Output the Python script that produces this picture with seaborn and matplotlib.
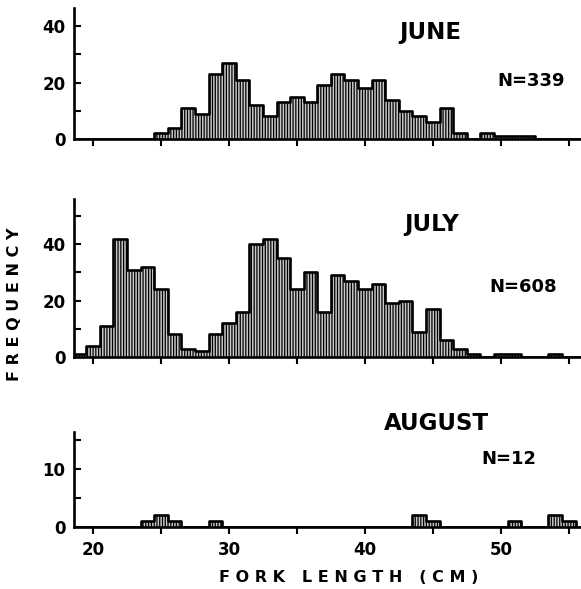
import numpy as np
import pandas as pd
import matplotlib
matplotlib.use("Agg")
import matplotlib.pyplot as plt
import seaborn as sns

# ---------------- data (fork length bins, 1 cm wide, centred on integers) -------------
lengths = list(range(19, 57))
june = [0, 0, 0, 0, 0, 0, 2, 4, 11, 9, 23, 27, 21, 12, 8, 13, 15, 13, 19,
        23, 21, 18, 21, 14, 10, 8, 6, 11, 2, 0, 2, 1, 1, 1, 0, 0, 0, 0]
july = [1, 4, 11, 42, 31, 32, 24, 8, 3, 2, 8, 12, 16, 40, 42, 35, 24, 30, 16,
        29, 27, 24, 26, 19, 20, 9, 17, 6, 3, 1, 0, 1, 1, 0, 0, 1, 0, 0]
august = [0, 0, 0, 0, 0, 1, 2, 1, 0, 0, 1, 0, 0, 0, 0, 0, 0, 0, 0,
          0, 0, 0, 0, 0, 0, 2, 1, 0, 0, 0, 0, 0, 1, 0, 0, 2, 1, 0]
months = ["JUNE", "JULY", "AUGUST"]
n_labels = ["N=339", "N=608", "N=12"]

xtick_values = [20, 25, 30, 35, 40, 45, 50, 55]
xtick_labels = ["20", "", "30", "", "40", "", "50", ""]
ytick_values = [[0, 10, 20, 30, 40], [0, 10, 20, 30, 40, 50], [0, 5, 10, 15]]
ytick_labels = [["0", "", "20", "", "40"], ["0", "", "20", "", "40", ""], ["0", "", "10", ""]]
ylims = [46.5, 56, 16.4]

# ---------------- style -------------
sns.set_style("ticks")
plt.rcParams["font.family"] = ["DejaVu Sans"]
plt.rcParams["font.weight"] = "bold"
plt.rcParams["hatch.linewidth"] = 0.9
for key in ["text.color", "axes.labelcolor", "xtick.color", "ytick.color", "axes.edgecolor"]:
    plt.rcParams[key] = "black"

W, H = 581, 589
fig = plt.figure(figsize=(W / 100, H / 100), dpi=100)

# axes rectangles in pixels: (left, top, right, bottom)
rects_px = [(74, 8, 581, 139), (74, 199, 581, 357), (74, 432, 581, 527)]

series = [june, july, august]
title_pos = [(430, 33), (432, 225), (436, 423)]
n_pos = [(531, 81), (523, 287), (509, 459)]

for i, (counts, (l, t, r, b)) in enumerate(zip(series, rects_px)):
    ax = fig.add_axes([l / W, 1 - b / H, (r - l) / W, (b - t) / H])
    df = pd.DataFrame({"length": lengths, "count": counts})
    sns.histplot(data=df, x="length", weights="count", binwidth=1,
                 binrange=(18.5, 56.5),
                 element="bars", fill=True, facecolor="#c8c8c8",
                 edgecolor="black", hatch="||||||", linewidth=0, ax=ax)
    sns.histplot(data=df, x="length", weights="count", binwidth=1,
                 binrange=(18.5, 56.5),
                 element="step", fill=False, color="black", linewidth=1.9, ax=ax)
    ax.set_xlim(18.6, 55.9)
    ax.set_ylim(0, ylims[i])
    ax.set_xlabel("")
    ax.set_ylabel("")
    for s in ["top", "right"]:
        ax.spines[s].set_visible(False)
    for s in ["left", "bottom"]:
        ax.spines[s].set_linewidth(1.9)
        ax.spines[s].set_color("black")
    ax.set_xticks(xtick_values)
    ax.set_xticklabels(xtick_labels)
    ax.set_yticks(ytick_values[i])
    ax.set_yticklabels(ytick_labels[i])
    ax.tick_params(axis="x", direction="out", length=5, width=1.5, pad=5,
                   labelsize=12, color="black", labelcolor="black",
                   labelbottom=(i == 2))
    ax.tick_params(axis="y", direction="in", length=5, width=1.5, pad=6,
                   labelsize=12, color="black", labelcolor="black")
    fig.text(title_pos[i][0] / W, 1 - title_pos[i][1] / H, months[i],
             ha="center", va="center", fontsize=16.5, fontweight="bold",
             color="black")
    fig.text(n_pos[i][0] / W, 1 - n_pos[i][1] / H, n_labels[i],
             ha="center", va="center", fontsize=13, fontweight="bold",
             color="black")

fig.text(15 / W, 1 - 304 / H, "F R E Q U E N C Y", rotation=90,
         ha="center", va="center", fontsize=11.5, fontweight="bold", color="black")
fig.text(349 / W, 1 - 577 / H, "F O R K   L E N G T H   ( C M )",
         ha="center", va="center", fontsize=11.5, fontweight="bold", color="black")

fig.savefig("out.png", dpi=100)
